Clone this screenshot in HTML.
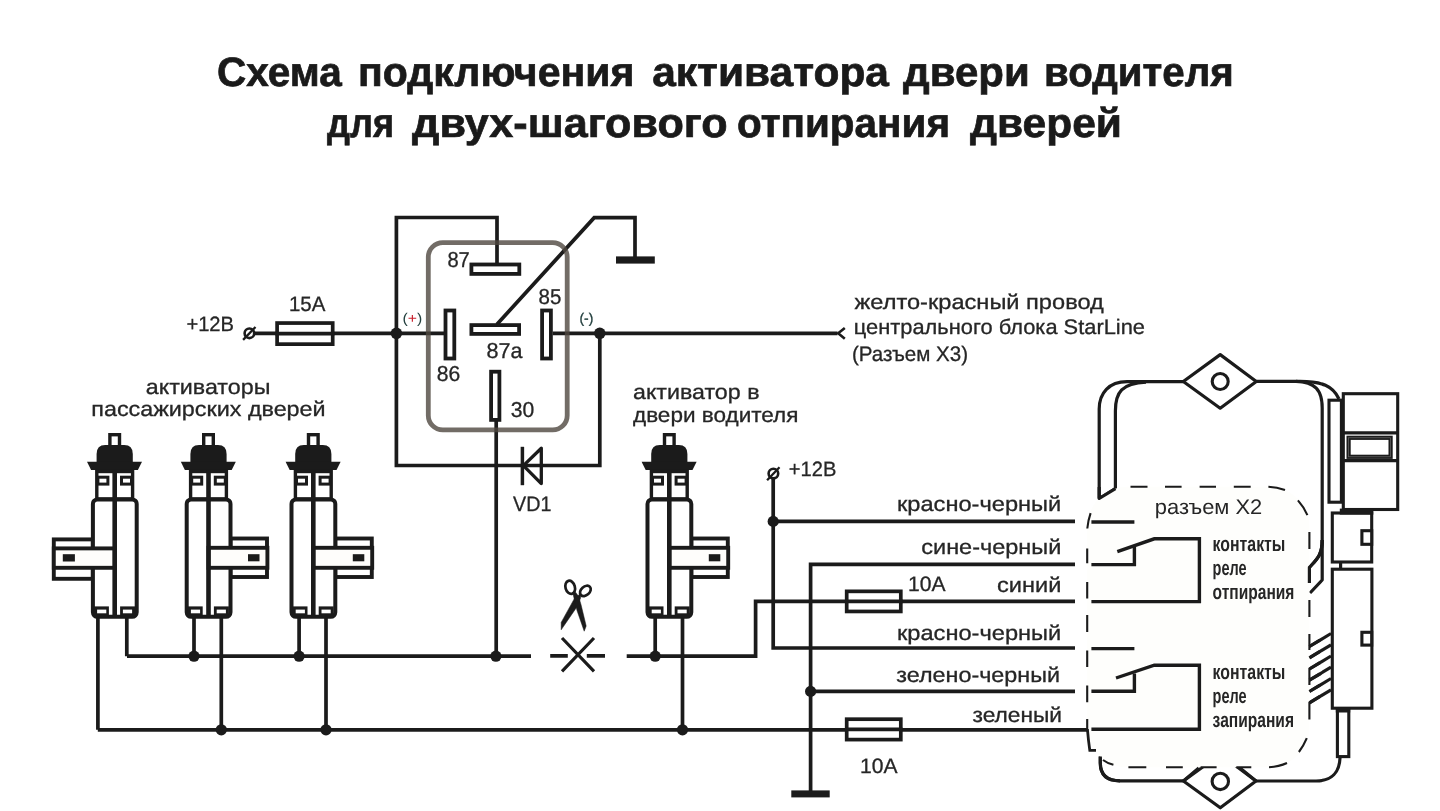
<!DOCTYPE html>
<html><head><meta charset="utf-8"><title>Схема подключения активатора двери водителя</title>
<style>
html,body{margin:0;padding:0;background:#fff;}
svg{display:block;font-family:"Liberation Sans",sans-serif;opacity:0.999;}
text{text-rendering:geometricPrecision;}
</style></head><body>
<svg width="1440" height="811" viewBox="0 0 1440 811">
<defs><filter id="gs" x="0" y="0" width="1440" height="811" filterUnits="userSpaceOnUse" color-interpolation-filters="sRGB"><feOffset dx="0" dy="0"/></filter></defs>
<rect width="1440" height="811" fill="#ffffff"/>
<g filter="url(#gs)">
<text x="217" y="85.8" font-size="41" text-anchor="start" font-weight="bold" fill="#1a1a1a" textLength="124.8" lengthAdjust="spacingAndGlyphs" stroke="#1a1a1a" stroke-width="0.7">Схема</text>
<text x="358" y="85.8" font-size="41" text-anchor="start" font-weight="bold" fill="#1a1a1a" textLength="276.4" lengthAdjust="spacingAndGlyphs" stroke="#1a1a1a" stroke-width="0.7">подключения</text>
<text x="652.2" y="85.8" font-size="41" text-anchor="start" font-weight="bold" fill="#1a1a1a" textLength="236.8" lengthAdjust="spacingAndGlyphs" stroke="#1a1a1a" stroke-width="0.7">активатора</text>
<text x="903" y="85.8" font-size="41" text-anchor="start" font-weight="bold" fill="#1a1a1a" textLength="126.8" lengthAdjust="spacingAndGlyphs" stroke="#1a1a1a" stroke-width="0.7">двери</text>
<text x="1044" y="85.8" font-size="41" text-anchor="start" font-weight="bold" fill="#1a1a1a" textLength="189.8" lengthAdjust="spacingAndGlyphs" stroke="#1a1a1a" stroke-width="0.7">водителя</text>
<text x="327" y="136.5" font-size="41" text-anchor="start" font-weight="bold" fill="#1a1a1a" textLength="67" lengthAdjust="spacingAndGlyphs" stroke="#1a1a1a" stroke-width="0.7">для</text>
<text x="412" y="136.5" font-size="41" text-anchor="start" font-weight="bold" fill="#1a1a1a" textLength="315.5" lengthAdjust="spacingAndGlyphs" stroke="#1a1a1a" stroke-width="0.7">двух-шагового</text>
<text x="737" y="136.5" font-size="41" text-anchor="start" font-weight="bold" fill="#1a1a1a" textLength="213" lengthAdjust="spacingAndGlyphs" stroke="#1a1a1a" stroke-width="0.7">отпирания</text>
<text x="970" y="136.5" font-size="41" text-anchor="start" font-weight="bold" fill="#1a1a1a" textLength="152" lengthAdjust="spacingAndGlyphs" stroke="#1a1a1a" stroke-width="0.7">дверей</text>
<path d="M254 333.3 H444 M552.7 333.3 H837.5" fill="none" stroke="#1b1b1b" stroke-width="3.7"/>
<path d="M844.8 328 L838.2 333.3 L844.8 338.8" fill="none" stroke="#1b1b1b" stroke-width="2.6" stroke-linejoin="miter"/>
<path d="M396.4 333.3 V217.5 H497 V264" fill="none" stroke="#1b1b1b" stroke-width="3.7"/>
<path d="M396.4 333.3 V465.5 H599.8 V333.3" fill="none" stroke="#1b1b1b" stroke-width="3.7"/>
<path d="M496.8 324.5 L594.2 217.7 H635 V257" fill="none" stroke="#1b1b1b" stroke-width="3.7" stroke-linejoin="miter"/>
<rect x="616" y="256.4" width="38.8" height="7.2" fill="#1b1b1b"/>
<path d="M496.2 421 V656" fill="none" stroke="#1b1b1b" stroke-width="3.7"/>
<rect x="428.3" y="242.6" width="138.9" height="187.3" rx="14.5" fill="none" stroke="#4f4740" stroke-opacity="0.8" stroke-width="4.8"/>
<rect x="471.4" y="264.5" width="47.90000000000005" height="9.399999999999988" fill="#fff" stroke="#1b1b1b" stroke-width="3.8"/>
<rect x="471.4" y="325.09999999999997" width="47.7" height="8.800000000000022" fill="#fff" stroke="#1b1b1b" stroke-width="3.8"/>
<rect x="445.5" y="310.5" width="8.799999999999965" height="47.99999999999996" fill="#fff" stroke="#1b1b1b" stroke-width="3.8"/>
<rect x="542.1" y="310.5" width="8.799999999999908" height="47.99999999999996" fill="#fff" stroke="#1b1b1b" stroke-width="3.8"/>
<rect x="491.09999999999997" y="371.7" width="8.300000000000022" height="48.2" fill="#fff" stroke="#1b1b1b" stroke-width="3.8"/>
<path d="M522.4 446.8 V485.2" fill="none" stroke="#1b1b1b" stroke-width="3.5"/>
<path d="M541.3 448.2 V483.6 L523.4 465.6 Z" fill="none" stroke="#1b1b1b" stroke-width="3.3" stroke-linejoin="round"/>
<circle cx="396.4" cy="333.3" r="5.8" fill="#1b1b1b"/>
<circle cx="599.8" cy="333.3" r="5.8" fill="#1b1b1b"/>
<rect x="277.09999999999997" y="323.05" width="55.6" height="21.1" fill="#fff" stroke="#1b1b1b" stroke-width="3.7"/><path d="M275.4 333.6 H334.4" stroke="#1b1b1b" stroke-width="3.7"/>
<circle cx="249.4" cy="333.3" r="4.8" fill="#fff" stroke="#1b1b1b" stroke-width="2.6"/><path d="M243.1 339.90000000000003 L255.5 327.0" stroke="#1b1b1b" stroke-width="2.3"/>
<path d="M127 656.2 H531" fill="none" stroke="#1b1b1b" stroke-width="3.7"/>
<path d="M550.2 655.8 H567.8 M586.8 655.8 H605" fill="none" stroke="#1b1b1b" stroke-width="3.7"/>
<path d="M626.7 656.2 H755.6 V601.3 H1075" fill="none" stroke="#1b1b1b" stroke-width="3.7"/>
<path d="M562 638 L594 671.4 M594 638 L562 671.4" fill="none" stroke="#1b1b1b" stroke-width="3.2"/>
<path d="M97.8 729.8 H1087.5" fill="none" stroke="#1b1b1b" stroke-width="3.7"/>
<path d="M773.2 478.5 V648 H1075 M773.2 521.4 H1075" fill="none" stroke="#1b1b1b" stroke-width="3.7"/>
<path d="M1075 564.4 H810.6 V791 M810.6 691.4 H1075" fill="none" stroke="#1b1b1b" stroke-width="3.7"/>
<rect x="791.3" y="790.4" width="38.4" height="7" fill="#1b1b1b"/>
<path d="M97.9 615 V729.8 M126.8 615 V656.2" fill="none" stroke="#1b1b1b" stroke-width="3.7"/>
<g transform="translate(114.7 0)">
<rect x="-60.9" y="539.4" width="39" height="39.4" fill="#fff" stroke="#1b1b1b" stroke-width="3.9"/>
<rect x="-4.8" y="434.7" width="9.6" height="12" fill="#fff" stroke="#1b1b1b" stroke-width="3.4"/>
<path d="M-18.1 463 V454 Q-18.1 445 -9.5 445 H9.5 Q18.1 445 18.1 454 V463 Z" fill="#1b1b1b"/>
<path d="M-27.7 461.8 H27.3 L23.2 469.9 H-23.6 Z" fill="#1b1b1b"/>
<rect x="-17.9" y="471.5" width="35.8" height="27.5" fill="#fff" stroke="#1b1b1b" stroke-width="3.4"/>
<rect x="-16.8" y="477.2" width="10" height="6.9" fill="#fff" stroke="#1b1b1b" stroke-width="3"/>
<rect x="6.8" y="477.2" width="10" height="6.9" fill="#fff" stroke="#1b1b1b" stroke-width="3"/>
<rect x="-21.8" y="499.4" width="43.8" height="117.4" rx="4.5" fill="#fff" stroke="#1b1b1b" stroke-width="4"/>
<rect x="-20.8" y="606.4" width="15" height="11" fill="#1b1b1b"/><rect x="-17.6" y="609.6" width="9.2" height="3.7" fill="#fff"/>
<rect x="5.4" y="606.4" width="15" height="11" fill="#1b1b1b"/><rect x="8.2" y="609.6" width="9.2" height="3.7" fill="#fff"/>
<rect x="-60.9" y="548.4" width="61" height="19.4" fill="#fefdfb" stroke="#1b1b1b" stroke-width="3.9"/>
<rect x="-51.9" y="554.2" width="12.1" height="7.3" fill="#1b1b1b"/>
<rect x="-2.3" y="470" width="4.6" height="147.5" fill="#1b1b1b"/>
</g>
<path d="M194 615 V656.2 M221.3 615 V729.8" fill="none" stroke="#1b1b1b" stroke-width="3.7"/>
<g transform="translate(208.5 0)">
<rect x="22" y="538.5" width="36.5" height="38.5" fill="#fff" stroke="#1b1b1b" stroke-width="3.9"/>
<rect x="-4.8" y="434.7" width="9.6" height="12" fill="#fff" stroke="#1b1b1b" stroke-width="3.4"/>
<path d="M-18.1 463 V454 Q-18.1 445 -9.5 445 H9.5 Q18.1 445 18.1 454 V463 Z" fill="#1b1b1b"/>
<path d="M-27.7 461.8 H27.3 L23.2 469.9 H-23.6 Z" fill="#1b1b1b"/>
<rect x="-17.9" y="471.5" width="35.8" height="27.5" fill="#fff" stroke="#1b1b1b" stroke-width="3.4"/>
<rect x="-16.8" y="477.2" width="10" height="6.9" fill="#fff" stroke="#1b1b1b" stroke-width="3"/>
<rect x="6.8" y="477.2" width="10" height="6.9" fill="#fff" stroke="#1b1b1b" stroke-width="3"/>
<rect x="-21.8" y="499.4" width="43.8" height="117.4" rx="4.5" fill="#fff" stroke="#1b1b1b" stroke-width="4"/>
<rect x="-20.8" y="606.4" width="15" height="11" fill="#1b1b1b"/><rect x="-17.6" y="609.6" width="9.2" height="3.7" fill="#fff"/>
<rect x="5.4" y="606.4" width="15" height="11" fill="#1b1b1b"/><rect x="8.2" y="609.6" width="9.2" height="3.7" fill="#fff"/>
<rect x="0" y="547.8" width="58.9" height="20" fill="#fefdfb" stroke="#1b1b1b" stroke-width="3.9"/>
<rect x="39.5" y="554.2" width="11.5" height="7.1" fill="#1b1b1b"/>
<rect x="-2.3" y="470" width="4.6" height="147.5" fill="#1b1b1b"/>
</g>
<path d="M299.1 615 V656.2 M326 615 V729.8" fill="none" stroke="#1b1b1b" stroke-width="3.7"/>
<g transform="translate(313.3 0)">
<rect x="22" y="538.5" width="36.5" height="38.5" fill="#fff" stroke="#1b1b1b" stroke-width="3.9"/>
<rect x="-4.8" y="434.7" width="9.6" height="12" fill="#fff" stroke="#1b1b1b" stroke-width="3.4"/>
<path d="M-18.1 463 V454 Q-18.1 445 -9.5 445 H9.5 Q18.1 445 18.1 454 V463 Z" fill="#1b1b1b"/>
<path d="M-27.7 461.8 H27.3 L23.2 469.9 H-23.6 Z" fill="#1b1b1b"/>
<rect x="-17.9" y="471.5" width="35.8" height="27.5" fill="#fff" stroke="#1b1b1b" stroke-width="3.4"/>
<rect x="-16.8" y="477.2" width="10" height="6.9" fill="#fff" stroke="#1b1b1b" stroke-width="3"/>
<rect x="6.8" y="477.2" width="10" height="6.9" fill="#fff" stroke="#1b1b1b" stroke-width="3"/>
<rect x="-21.8" y="499.4" width="43.8" height="117.4" rx="4.5" fill="#fff" stroke="#1b1b1b" stroke-width="4"/>
<rect x="-20.8" y="606.4" width="15" height="11" fill="#1b1b1b"/><rect x="-17.6" y="609.6" width="9.2" height="3.7" fill="#fff"/>
<rect x="5.4" y="606.4" width="15" height="11" fill="#1b1b1b"/><rect x="8.2" y="609.6" width="9.2" height="3.7" fill="#fff"/>
<rect x="0" y="547.8" width="58.9" height="20" fill="#fefdfb" stroke="#1b1b1b" stroke-width="3.9"/>
<rect x="39.5" y="554.2" width="11.5" height="7.1" fill="#1b1b1b"/>
<rect x="-2.3" y="470" width="4.6" height="147.5" fill="#1b1b1b"/>
</g>
<path d="M655.2 615 V656.2 M682.5 615 V729.8" fill="none" stroke="#1b1b1b" stroke-width="3.7"/>
<g transform="translate(669.3 0)">
<rect x="22" y="538.5" width="36.5" height="38.5" fill="#fff" stroke="#1b1b1b" stroke-width="3.9"/>
<rect x="-4.8" y="434.7" width="9.6" height="12" fill="#fff" stroke="#1b1b1b" stroke-width="3.4"/>
<path d="M-18.1 463 V454 Q-18.1 445 -9.5 445 H9.5 Q18.1 445 18.1 454 V463 Z" fill="#1b1b1b"/>
<path d="M-27.7 461.8 H27.3 L23.2 469.9 H-23.6 Z" fill="#1b1b1b"/>
<rect x="-17.9" y="471.5" width="35.8" height="27.5" fill="#fff" stroke="#1b1b1b" stroke-width="3.4"/>
<rect x="-16.8" y="477.2" width="10" height="6.9" fill="#fff" stroke="#1b1b1b" stroke-width="3"/>
<rect x="6.8" y="477.2" width="10" height="6.9" fill="#fff" stroke="#1b1b1b" stroke-width="3"/>
<rect x="-21.8" y="499.4" width="43.8" height="117.4" rx="4.5" fill="#fff" stroke="#1b1b1b" stroke-width="4"/>
<rect x="-20.8" y="606.4" width="15" height="11" fill="#1b1b1b"/><rect x="-17.6" y="609.6" width="9.2" height="3.7" fill="#fff"/>
<rect x="5.4" y="606.4" width="15" height="11" fill="#1b1b1b"/><rect x="8.2" y="609.6" width="9.2" height="3.7" fill="#fff"/>
<rect x="0" y="547.8" width="58.9" height="20" fill="#fefdfb" stroke="#1b1b1b" stroke-width="3.9"/>
<rect x="39.5" y="554.2" width="11.5" height="7.1" fill="#1b1b1b"/>
<rect x="-2.3" y="470" width="4.6" height="147.5" fill="#1b1b1b"/>
</g>
<circle cx="194" cy="656.2" r="5.6" fill="#1b1b1b"/>
<circle cx="299.1" cy="656.2" r="5.6" fill="#1b1b1b"/>
<circle cx="221.3" cy="729.8" r="5.6" fill="#1b1b1b"/>
<circle cx="326" cy="729.8" r="5.6" fill="#1b1b1b"/>
<circle cx="495.9" cy="656.2" r="5.6" fill="#1b1b1b"/>
<circle cx="655.2" cy="656.2" r="5.6" fill="#1b1b1b"/>
<circle cx="682.5" cy="729.8" r="5.6" fill="#1b1b1b"/>
<circle cx="773.2" cy="521.4" r="5.6" fill="#1b1b1b"/>
<circle cx="810.6" cy="691.4" r="5.6" fill="#1b1b1b"/>
<circle cx="773.4" cy="473.6" r="4.8" fill="#fff" stroke="#1b1b1b" stroke-width="2.6"/><path d="M767.1 480.20000000000005 L779.5 467.3" stroke="#1b1b1b" stroke-width="2.3"/>
<rect x="846.7" y="591.35" width="54.1" height="20.1" fill="#fff" stroke="#1b1b1b" stroke-width="3.7"/><path d="M845 601.4 H902.5" stroke="#1b1b1b" stroke-width="3.7"/>
<rect x="846.7" y="719.2" width="54.1" height="20.400000000000002" fill="#fff" stroke="#1b1b1b" stroke-width="3.7"/><path d="M845 729.4 H902.5" stroke="#1b1b1b" stroke-width="3.7"/>
<g fill="#1b1b1b" stroke="#1b1b1b" stroke-width="0.5" stroke-linejoin="round">
<path d="M580.3 594 L575 597.4 L561.2 622.4 V629.8 L577.4 606.2 L580.6 598 Z"/>
<path d="M572.6 592.6 L574.2 598.7 L577 610.5 L584.2 631.2 L586.2 626 L581 604.6 L578.6 596.4 L575.6 592.2 Z"/>
</g>
<g fill="none" stroke="#1b1b1b" stroke-width="2.7">
<ellipse cx="570.2" cy="587.3" rx="4.7" ry="6.7" transform="rotate(-16 570.2 587.3)"/>
<ellipse cx="585.4" cy="590.9" rx="6.1" ry="4.3" transform="rotate(-42 585.4 590.9)"/>
</g>
<text x="186.4" y="330.5" font-size="20.8" text-anchor="start" font-weight="normal" fill="#262626" textLength="47.6" lengthAdjust="spacingAndGlyphs" stroke="#262626" stroke-width="0.3">+12В</text>
<text x="289" y="310.7" font-size="20.8" text-anchor="start" font-weight="normal" fill="#262626" textLength="36.4" lengthAdjust="spacingAndGlyphs" stroke="#262626" stroke-width="0.3">15А</text>
<text x="447.4" y="267.1" font-size="21.6" text-anchor="start" font-weight="normal" fill="#262626" textLength="22.4" lengthAdjust="spacingAndGlyphs" stroke="#262626" stroke-width="0.3">87</text>
<text x="538.5" y="303.9" font-size="21.6" text-anchor="start" font-weight="normal" fill="#262626" textLength="22.8" lengthAdjust="spacingAndGlyphs" stroke="#262626" stroke-width="0.3">85</text>
<text x="486.6" y="357.8" font-size="21.6" text-anchor="start" font-weight="normal" fill="#262626" textLength="36" lengthAdjust="spacingAndGlyphs" stroke="#262626" stroke-width="0.3">87a</text>
<text x="436.7" y="380.8" font-size="21.6" text-anchor="start" font-weight="normal" fill="#262626" textLength="23.5" lengthAdjust="spacingAndGlyphs" stroke="#262626" stroke-width="0.3">86</text>
<text x="510.7" y="417.0" font-size="21.6" text-anchor="start" font-weight="normal" fill="#262626" textLength="23.5" lengthAdjust="spacingAndGlyphs" stroke="#262626" stroke-width="0.3">30</text>
<text x="513.1" y="511.1" font-size="21" text-anchor="start" font-weight="normal" fill="#262626" textLength="38.3" lengthAdjust="spacingAndGlyphs" stroke="#262626" stroke-width="0.3">VD1</text>
<text x="402.5" y="322.6" font-size="14" fill="#24403f" textLength="19.8" lengthAdjust="spacingAndGlyphs">(<tspan fill="#c81e2b">+</tspan>)</text>
<text x="579.5" y="323.1" font-size="14" text-anchor="start" font-weight="normal" fill="#24403f" textLength="13.8" lengthAdjust="spacingAndGlyphs" stroke="#24403f" stroke-width="0.3">(-)</text>
<text x="145.8" y="393.8" font-size="21" text-anchor="start" font-weight="normal" fill="#262626" textLength="124.6" lengthAdjust="spacingAndGlyphs" stroke="#262626" stroke-width="0.3">активаторы</text>
<text x="91.3" y="416.3" font-size="21" text-anchor="start" font-weight="normal" fill="#262626" textLength="234.3" lengthAdjust="spacingAndGlyphs" stroke="#262626" stroke-width="0.3">пассажирских дверей</text>
<text x="633" y="398.9" font-size="21" text-anchor="start" font-weight="normal" fill="#262626" textLength="126.5" lengthAdjust="spacingAndGlyphs" stroke="#262626" stroke-width="0.3">активатор в</text>
<text x="633" y="421.5" font-size="21" text-anchor="start" font-weight="normal" fill="#262626" textLength="165.4" lengthAdjust="spacingAndGlyphs" stroke="#262626" stroke-width="0.3">двери водителя</text>
<text x="854.5" y="308.7" font-size="21" text-anchor="start" font-weight="normal" fill="#262626" textLength="249.3" lengthAdjust="spacingAndGlyphs" stroke="#262626" stroke-width="0.3">желто-красный провод</text>
<text x="853.8" y="334.3" font-size="21" text-anchor="start" font-weight="normal" fill="#262626" textLength="291.2" lengthAdjust="spacingAndGlyphs" stroke="#262626" stroke-width="0.3">центрального блока StarLine</text>
<text x="852" y="361.0" font-size="21" text-anchor="start" font-weight="normal" fill="#262626" textLength="116" lengthAdjust="spacingAndGlyphs" stroke="#262626" stroke-width="0.3">(Разъем Х3)</text>
<text x="788.8" y="475.7" font-size="20.8" text-anchor="start" font-weight="normal" fill="#262626" textLength="47.5" lengthAdjust="spacingAndGlyphs" stroke="#262626" stroke-width="0.3">+12В</text>
<text x="897" y="511.0" font-size="21" text-anchor="start" font-weight="normal" fill="#262626" textLength="164.3" lengthAdjust="spacingAndGlyphs" stroke="#262626" stroke-width="0.3">красно-черный</text>
<text x="921.3" y="554.3" font-size="21" text-anchor="start" font-weight="normal" fill="#262626" textLength="140" lengthAdjust="spacingAndGlyphs" stroke="#262626" stroke-width="0.3">сине-черный</text>
<text x="908" y="591.3" font-size="20.8" text-anchor="start" font-weight="normal" fill="#262626" textLength="37.5" lengthAdjust="spacingAndGlyphs" stroke="#262626" stroke-width="0.3">10А</text>
<text x="997" y="592.3" font-size="21" text-anchor="start" font-weight="normal" fill="#262626" textLength="64.3" lengthAdjust="spacingAndGlyphs" stroke="#262626" stroke-width="0.3">синий</text>
<text x="897" y="639.5" font-size="21" text-anchor="start" font-weight="normal" fill="#262626" textLength="164.3" lengthAdjust="spacingAndGlyphs" stroke="#262626" stroke-width="0.3">красно-черный</text>
<text x="896.3" y="682.0" font-size="21" text-anchor="start" font-weight="normal" fill="#262626" textLength="163.7" lengthAdjust="spacingAndGlyphs" stroke="#262626" stroke-width="0.3">зелено-черный</text>
<text x="972.5" y="721.5" font-size="21" text-anchor="start" font-weight="normal" fill="#262626" textLength="89.5" lengthAdjust="spacingAndGlyphs" stroke="#262626" stroke-width="0.3">зеленый</text>
<text x="860" y="772.8" font-size="20.8" text-anchor="start" font-weight="normal" fill="#262626" textLength="37.5" lengthAdjust="spacingAndGlyphs" stroke="#262626" stroke-width="0.3">10А</text>
<path d="M1099.2 498.5 V409 C1099.2 393 1109 381.6 1127 381.6 H1183.3" fill="none" stroke="#1b1b1b" stroke-width="3.2" stroke-linejoin="round" stroke-linecap="butt"/>
<path d="M1099.2 498.5 L1115.4 488.6 V411 C1115.4 392 1122 383.4 1146 382.2" fill="none" stroke="#1b1b1b" stroke-width="3.2" stroke-linejoin="round" stroke-linecap="butt"/>
<path d="M1256.3 381.4 H1300 C1322 381.4 1333 386 1339 399" fill="none" stroke="#1b1b1b" stroke-width="3.2" stroke-linejoin="round" stroke-linecap="butt"/>
<path d="M1296 381.4 C1315 382 1322.2 390 1322.2 408 V580 L1310 593" fill="none" stroke="#1b1b1b" stroke-width="3.2" stroke-linejoin="round" stroke-linecap="butt"/>
<path d="M1322.2 540 C1322.2 556 1316 560 1309.4 567.4 V583" fill="none" stroke="#1b1b1b" stroke-width="3.2" stroke-linejoin="round" stroke-linecap="butt"/>
<path d="M1183.3 381.5 L1220.2 354.6 L1256.3 381.5 L1220.2 408.2 Z" fill="#fff" stroke="#1b1b1b" stroke-width="3.2" stroke-linejoin="round"/>
<circle cx="1220.2" cy="381.5" r="8" fill="#fff" stroke="#1b1b1b" stroke-width="3.1"/>
<path d="M1100.3 756.5 V763 C1100.3 775 1107 780.8 1120 780.8 H1183.4" fill="none" stroke="#1b1b1b" stroke-width="3.2" stroke-linejoin="round" stroke-linecap="butt"/>
<path d="M1256 781 H1316 C1332 781 1339.5 772 1340 758" fill="none" stroke="#1b1b1b" stroke-width="3.2" stroke-linejoin="round" stroke-linecap="butt"/>
<path d="M1183.4 781 L1220.3 754.2 L1256 781 L1220.3 807.8 Z" fill="#fff" stroke="#1b1b1b" stroke-width="3.2" stroke-linejoin="round"/>
<circle cx="1220.3" cy="781.4" r="8.2" fill="#fff" stroke="#1b1b1b" stroke-width="3.1"/>
<path d="M1309.4 646.5 L1331 633.5" fill="none" stroke="#1b1b1b" stroke-width="3.2" stroke-linejoin="round" stroke-linecap="butt"/>
<path d="M1309.4 657.8 L1331 644.8" fill="none" stroke="#1b1b1b" stroke-width="3.2" stroke-linejoin="round" stroke-linecap="butt"/>
<path d="M1309.4 669.0 L1331 656.0" fill="none" stroke="#1b1b1b" stroke-width="3.2" stroke-linejoin="round" stroke-linecap="butt"/>
<path d="M1309.4 680.2 L1331 667.2" fill="none" stroke="#1b1b1b" stroke-width="3.2" stroke-linejoin="round" stroke-linecap="butt"/>
<path d="M1309.4 691.5 L1331 678.5" fill="none" stroke="#1b1b1b" stroke-width="3.2" stroke-linejoin="round" stroke-linecap="butt"/>
<path d="M1309.4 702.8 L1331 689.8" fill="none" stroke="#1b1b1b" stroke-width="3.2" stroke-linejoin="round" stroke-linecap="butt"/>
<rect x="1329" y="400.2" width="12.4" height="102" fill="#fff" stroke="#1b1b1b" stroke-width="3.1"/>
<rect x="1343.3" y="393.7" width="54.4" height="115.8" fill="#fff" stroke="#1b1b1b" stroke-width="3.1"/>
<path d="M1343 432.8 H1398 M1343 460.7 H1398" fill="none" stroke="#1b1b1b" stroke-width="3.2" stroke-linejoin="round" stroke-linecap="butt"/>
<rect x="1348.6" y="437.8" width="42" height="19" fill="#fff" stroke="#1b1b1b" stroke-width="4.2"/>
<rect x="1348.6" y="437.8" width="42" height="19" fill="none" stroke="#6a6a6a" stroke-width="0.7" transform="translate(0 0)"/>
<rect x="1332.3" y="513" width="39.4" height="49" fill="#fff" stroke="#1b1b1b" stroke-width="3.1"/>
<rect x="1339.8" y="508.6" width="33.5" height="6" fill="#1b1b1b"/>
<rect x="1361.9" y="530.7" width="9.8" height="13.6" fill="#fff" stroke="#1b1b1b" stroke-width="3.1"/>
<path d="M1340.6 562 V569" fill="none" stroke="#1b1b1b" stroke-width="3.2" stroke-linejoin="round" stroke-linecap="butt"/>
<rect x="1332.3" y="569.2" width="39.6" height="139" fill="#fff" stroke="#1b1b1b" stroke-width="3.1"/>
<rect x="1361.9" y="632.3" width="9.8" height="12.8" fill="#fff" stroke="#1b1b1b" stroke-width="3.1"/>
<rect x="1337.4" y="710" width="11.4" height="46.6" fill="#fff" stroke="#1b1b1b" stroke-width="3.1"/>
<rect x="1335.8" y="707.5" width="14.4" height="5" fill="#1b1b1b"/>
<rect x="1087.2" y="486.7" width="222.2" height="280.5" rx="40" ry="40" fill="#fefefc"/>
<path d="M1099.2 487 V498.5 L1115.4 488.6" fill="none" stroke="#1b1b1b" stroke-width="3.2" stroke-linejoin="round" stroke-linecap="butt"/>
<path d="M1183.4 781 L1198.8 768 M1256 781 L1240 768" fill="none" stroke="#1b1b1b" stroke-width="3.2" stroke-linejoin="round" stroke-linecap="butt"/>
<path d="M1100.3 756.5 V763 C1100.3 775 1107 780.8 1120 780.8" fill="none" stroke="#1b1b1b" stroke-width="3.2" stroke-linejoin="round" stroke-linecap="butt"/>
<path d="M1322.2 540 C1322.2 556 1316 560 1309.4 567.4 V583" fill="none" stroke="#1b1b1b" stroke-width="3.2" stroke-linejoin="round" stroke-linecap="butt"/>
<path d="M1309.4 646.5 L1320 640.1" fill="none" stroke="#1b1b1b" stroke-width="3.2" stroke-linejoin="round" stroke-linecap="butt"/>
<path d="M1309.4 657.8 L1320 651.4" fill="none" stroke="#1b1b1b" stroke-width="3.2" stroke-linejoin="round" stroke-linecap="butt"/>
<path d="M1309.4 669.0 L1320 662.6" fill="none" stroke="#1b1b1b" stroke-width="3.2" stroke-linejoin="round" stroke-linecap="butt"/>
<path d="M1309.4 680.2 L1320 673.9" fill="none" stroke="#1b1b1b" stroke-width="3.2" stroke-linejoin="round" stroke-linecap="butt"/>
<path d="M1309.4 691.5 L1320 685.1" fill="none" stroke="#1b1b1b" stroke-width="3.2" stroke-linejoin="round" stroke-linecap="butt"/>
<path d="M1309.4 702.8 L1320 696.4" fill="none" stroke="#1b1b1b" stroke-width="3.2" stroke-linejoin="round" stroke-linecap="butt"/>
<path d="M1130.5 486.7 H1147.5 M1165 486.7 H1181.6 M1199.6 486.7 H1216 M1233.8 486.7 H1250.7 M1268.4 486.8 Q1277 487.2 1285 490 M1297.9 500.4 Q1303.5 506.5 1307.4 515.1 M1309.4 532 V549 M1309.4 600 V617 M1309.4 634 V650 M1309.4 668 V685 M1309.4 702 V719.5 M1306.8 738.2 Q1303.5 746 1298.9 752 M1287 763 Q1279 766.6 1269 767.2 M1128.4 767.2 H1146.3 M1166 767.2 H1182.8 M1200.6 767.2 H1216.6 M1236.3 767.2 H1251.3 M1103 760 Q1107.5 763.4 1113.4 764.8 M1087.2 548.5 V563.3 M1087.2 581.9 V598.5 M1087.2 615 V631.9 M1087.2 650.4 V667 M1087.2 685.6 V702.2 M1087.2 718.9 V730 M1087.3 528.5 Q1088.2 520 1090.6 513.2" fill="none" stroke="#1b1b1b" stroke-width="2.1"/>
<path d="M1087.4 729 Q1088.4 741 1089.8 750.4 H1096" fill="none" stroke="#1b1b1b" stroke-width="2.8"/>
<path d="M1091.4 522 H1134.4" fill="none" stroke="#1b1b1b" stroke-width="3.4" stroke-linejoin="miter"/>
<path d="M1091.4 564.6 H1134.4 V547" fill="none" stroke="#1b1b1b" stroke-width="3.4" stroke-linejoin="miter"/>
<path d="M1117.3 551.6 L1154.3 538.8 H1199.4 V601.6 H1091.4" fill="none" stroke="#1b1b1b" stroke-width="3.4" stroke-linejoin="miter"/>
<path d="M1091.4 648.6 H1134.4" fill="none" stroke="#1b1b1b" stroke-width="3.4" stroke-linejoin="miter"/>
<path d="M1091.4 691.2 H1134.4 V673.5" fill="none" stroke="#1b1b1b" stroke-width="3.4" stroke-linejoin="miter"/>
<path d="M1116 678 L1154.3 665.2 H1199.4 V729.2 H1091.4" fill="none" stroke="#1b1b1b" stroke-width="3.4" stroke-linejoin="miter"/>
<text x="1154.8" y="514.4" font-size="21" font-weight="normal" fill="#262626" textLength="107.5" lengthAdjust="spacingAndGlyphs">разъем Х2</text>
<text x="1212.6" y="551.1" font-size="21" font-weight="bold" fill="#262626" textLength="72.8" lengthAdjust="spacingAndGlyphs">контакты</text>
<text x="1212.6" y="575.2" font-size="21" font-weight="bold" fill="#262626" textLength="34" lengthAdjust="spacingAndGlyphs">реле</text>
<text x="1212.6" y="598.7" font-size="21" font-weight="bold" fill="#262626" textLength="81.8" lengthAdjust="spacingAndGlyphs">отпирания</text>
<text x="1212.6" y="678.6" font-size="21" font-weight="bold" fill="#262626" textLength="72.8" lengthAdjust="spacingAndGlyphs">контакты</text>
<text x="1212.6" y="702.6" font-size="21" font-weight="bold" fill="#262626" textLength="34" lengthAdjust="spacingAndGlyphs">реле</text>
<text x="1212.6" y="727.0" font-size="21" font-weight="bold" fill="#262626" textLength="81.4" lengthAdjust="spacingAndGlyphs">запирания</text>
</g>
</svg>
</body></html>
